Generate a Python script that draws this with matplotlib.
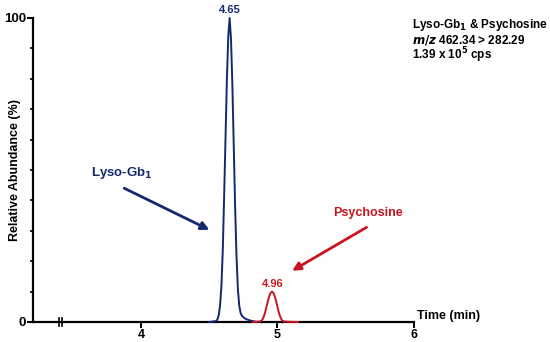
import matplotlib.pyplot as plt

plt.rcParams['font.family'] = ['Liberation Sans', 'DejaVu Sans']
plt.rcParams['font.weight'] = 'bold'

# chromatogram traces (time in min, relative abundance %)
lyso_t = [4.50, 4.55, 4.56, 4.57, 4.58, 4.59, 4.60, 4.61, 4.62, 4.63, 4.64, 4.65,
          4.66, 4.67, 4.68, 4.69, 4.70, 4.71, 4.72, 4.73, 4.74, 4.76, 4.78, 4.80, 4.83, 4.85]
lyso_y = [0.0, 0.3, 0.8, 2.2, 5.5, 12, 24, 42, 61, 80, 94, 100,
          93, 78, 58, 38, 22, 11, 5.5, 3.0, 2.0, 1.2, 0.8, 0.5, 0.2, 0.0]

psy_t = [4.82, 4.86, 4.88, 4.89, 4.90, 4.91, 4.92, 4.93, 4.94, 4.95, 4.96, 4.97,
         4.98, 4.99, 5.00, 5.01, 5.02, 5.03, 5.04, 5.06, 5.15]
psy_y = [0.0, 0.1, 0.3, 0.8, 1.8, 3.2, 5.0, 6.9, 8.5, 9.6, 10.0, 9.6,
         8.5, 6.9, 5.0, 3.2, 1.8, 0.8, 0.3, 0.1, 0.0]

navy = '#14286e'
red = '#c8141e'

fig = plt.figure(figsize=(5.5, 3.42), dpi=100)
ax = fig.add_axes([33/550, 20/342, (414-33)/550, 304/342])

x0, x1 = 3.21, 6.0
ax.plot([x0, x1], [0, 0], color='black', lw=1.6, zorder=1, clip_on=False)
ax.plot(lyso_t, lyso_y, color=navy, lw=1.4, zorder=3, clip_on=False)
ax.plot(psy_t, psy_y, color=red, lw=1.4, zorder=3, clip_on=False)

# axis break marks
for bx in [3.40, 3.42]:
    ax.plot([bx, bx], [-1.3, 1.3], color='black', lw=1.2, clip_on=False)

ax.set_xlim(x0, x1)
ax.set_ylim(0, 100)
for s in ['top', 'right', 'bottom']:
    ax.spines[s].set_visible(False)
ax.spines['left'].set_linewidth(1.6)

ax.set_xticks([4, 5, 6])
ax.set_xticklabels(['4', '5', '6'], fontsize=9, fontweight='bold')
ax.tick_params(axis='x', length=4, width=1.4, pad=1)
ax.set_yticks([0, 100])
ax.set_yticklabels(['0', '100'], fontsize=9.5, fontweight='bold')
ax.set_yticks(range(10, 100, 10), minor=True)
ax.tick_params(axis='y', which='major', length=4, width=1.4, pad=1)
ax.tick_params(axis='y', which='minor', length=2.5, width=1.2)

ax.set_ylabel('Relative Abundance (%)', fontsize=9, fontweight='bold')
ax.yaxis.set_label_coords(-0.031, 0.5)
ax.text(6.02, 0, 'Time (min)', fontsize=9, fontweight='bold', ha='left', va='bottom')

# peak labels
ax.text(4.652, 101, '4.65', color=navy, fontsize=8, fontweight='bold', ha='center', va='bottom')
ax.text(4.962, 11, '4.96', color=red, fontsize=8, fontweight='bold', ha='center', va='bottom')

ax.annotate('', xy=(4.52, 29.9), xytext=(3.86, 44.4),
            arrowprops=dict(arrowstyle='-|>', color=navy, lw=2, mutation_scale=12))
ax.text(3.86, 46.5, 'Lyso-Gb$_\\mathbf{1}$', color=navy, fontsize=9.5, fontweight='bold',
        ha='center', va='bottom')

ax.annotate('', xy=(5.09, 16.4), xytext=(5.67, 31.6),
            arrowprops=dict(arrowstyle='-|>', color=red, lw=2, mutation_scale=12))
ax.text(5.66, 34, 'Psychosine', color=red, fontsize=9, fontweight='bold',
        ha='center', va='bottom')

fig.text(412/550, 1-25/342, 'Lyso-Gb$_\\mathbf{1}$ & Psychosine', fontsize=8.5,
         fontweight='bold', va='center')
fig.text(412/550, 1-40/342, '$\\boldsymbol{m/z}$ 462.34 > 282.29', fontsize=8.5,
         fontweight='bold', va='center')
fig.text(412/550, 1-55/342, '1.39 x 10$^\\mathbf{5}$ cps', fontsize=8.5,
         fontweight='bold', va='center')

fig.savefig('out.png', dpi=100)
